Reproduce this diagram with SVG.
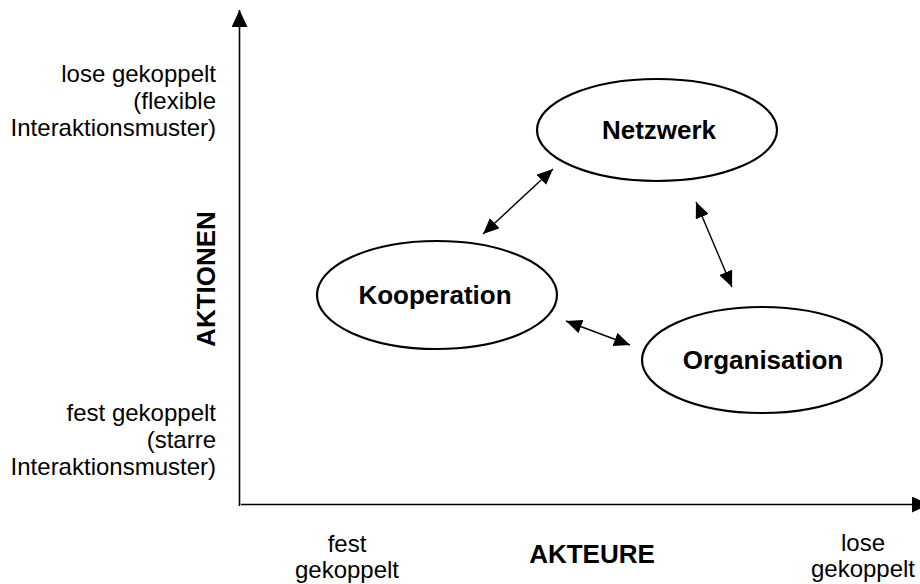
<svg xmlns="http://www.w3.org/2000/svg" width="920" height="584" viewBox="0 0 920 584">
  <defs>
    <style>
      .lbl { font-family: "Liberation Sans", Arial, sans-serif; font-size: 24px; fill: #000; }
      .bold { font-family: "Liberation Sans", Arial, sans-serif; font-size: 26px; font-weight: bold; fill: #000; }
      .node { fill: #fff; stroke: #000; stroke-width: 2.2; }
      .axis { stroke: #000; stroke-width: 1.6; fill: none; }
      .link { stroke: #000; stroke-width: 1.4; fill: none; marker-start: url(#head); marker-end: url(#head); }
    </style>
    <marker id="head" viewBox="0 0 16 14" markerWidth="16" markerHeight="14" refX="16" refY="7" orient="auto-start-reverse" markerUnits="userSpaceOnUse">
      <path d="M0,0 L16,7 L0,14 z" fill="#000"/>
    </marker>
    <marker id="axishead" viewBox="0 0 17 16" markerWidth="17" markerHeight="16" refX="17" refY="8" orient="auto" markerUnits="userSpaceOnUse">
      <path d="M0,0 L17,8 L0,16 z" fill="#000"/>
    </marker>
  </defs>

  <!-- axes -->
  <g id="axes">
    <line class="axis" x1="239.5" y1="506" x2="239.5" y2="10" marker-end="url(#axishead)"/>
    <line class="axis" x1="241" y1="504.5" x2="929" y2="504.5" marker-end="url(#axishead)"/>
  </g>

  <!-- axis labels -->
  <g id="y-labels">
    <text class="lbl" text-anchor="end" x="216" y="82">lose gekoppelt</text>
    <text class="lbl" text-anchor="end" x="216" y="109">(flexible</text>
    <text class="lbl" text-anchor="end" x="216" y="136">Interaktionsmuster)</text>
    <text class="lbl" text-anchor="end" x="216" y="421">fest gekoppelt</text>
    <text class="lbl" text-anchor="end" x="216" y="448">(starre</text>
    <text class="lbl" text-anchor="end" x="216" y="475">Interaktionsmuster)</text>
    <text class="bold" text-anchor="middle" transform="translate(215 279) rotate(-90)">AKTIONEN</text>
  </g>
  <g id="x-labels">
    <text class="lbl" text-anchor="middle" x="347" y="552">fest</text>
    <text class="lbl" text-anchor="middle" x="347" y="578">gekoppelt</text>
    <text class="bold" text-anchor="middle" x="592" y="563">AKTEURE</text>
    <text class="lbl" text-anchor="middle" x="863" y="551">lose</text>
    <text class="lbl" text-anchor="middle" x="863" y="577">gekoppelt</text>
  </g>

  <!-- connectors -->
  <g id="connectors">
    <line class="link" x1="483" y1="234" x2="553" y2="169"/>
    <line class="link" x1="696" y1="202" x2="732" y2="287"/>
    <line class="link" x1="566" y1="321" x2="630" y2="345"/>
  </g>

  <!-- nodes -->
  <g id="netzwerk">
    <ellipse class="node" cx="657" cy="130" rx="120" ry="51"/>
    <text class="bold" text-anchor="middle" x="659" y="139">Netzwerk</text>
  </g>
  <g id="kooperation">
    <ellipse class="node" cx="437" cy="295" rx="120" ry="54"/>
    <text class="bold" text-anchor="middle" x="435" y="304">Kooperation</text>
  </g>
  <g id="organisation">
    <ellipse class="node" cx="762" cy="360" rx="120" ry="53"/>
    <text class="bold" text-anchor="middle" x="763" y="369">Organisation</text>
  </g>
</svg>
